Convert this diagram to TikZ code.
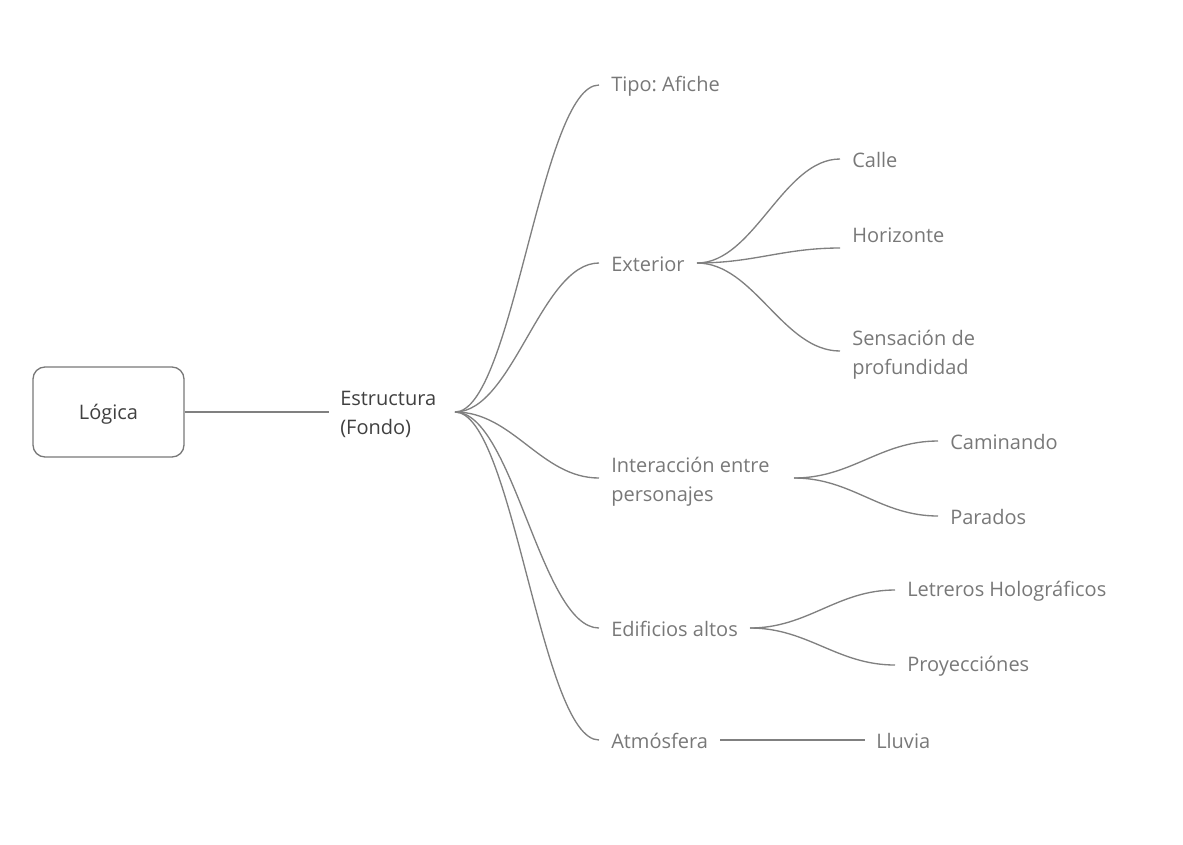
\documentclass[tikz,border=0pt]{standalone}
\usepackage{fontspec}
\setmainfont{Open Sans}
\frenchspacing
\definecolor{linegray}{HTML}{808080}
\definecolor{leafgray}{HTML}{787878}
\definecolor{darktext}{HTML}{404040}
\begin{document}
\begin{tikzpicture}[x=0.75pt,y=-0.75pt,
  every node/.style={font=\fontsize{15}{21.75}\selectfont, align=left, inner sep=0pt},
  rootbox/.style={draw=leafgray, line width=1pt, rounded corners=9pt, minimum width=113.25pt, minimum height=67.5pt, align=center, text=darktext, text height=14.4pt, text depth=3.6pt},
  maintext/.style={anchor=west, text=darktext, yshift=-1.5pt},
  leaf/.style={anchor=west, text=leafgray, yshift=-0.75pt},
  twoline/.style={yshift=-1.8pt},
  conn/.style={draw=linegray, line width=1pt},
]
\useasboundingbox (0,0) rectangle (1183,844);
% root
\node[rootbox] (logica) at (108.5,412) {Lógica};
\node[maintext] (estr) at (340,412) {Estructura\\(Fondo)};
\coordinate (estrin) at (329,412);
\coordinate (estrout) at (455,412);
\draw[conn] (logica.east) -- (estrin);

% level 1
\node[leaf] (tipo) at (611,85) {Tipo: Afiche};
\node[leaf] (ext) at (611,263) {Exterior};
\node[leaf, twoline] (inter) at (611,478) {Interacción entre\\personajes};
\node[leaf] (edif) at (611,628) {Edificios altos};
\node[leaf] (atm) at (611,740) {Atmósfera};
\foreach \n/\y in {tipo/85, ext/263, inter/478, edif/628, atm/740}{
  \coordinate (\n-in) at (599,\y);
  \draw[conn] (estrout) .. controls (513,412) and (541,\y) .. (\n-in);
}

% Exterior children
\coordinate (ext-out) at (697,263);
\node[leaf] (calle) at (852,159) {Calle};
\node[leaf] (hor) at (852,234) {Horizonte};
\node[leaf, twoline] (sens) at (852,351) {Sensación de\\profundidad};
\coordinate (calle-in) at (840,159);
\coordinate (hor-in) at (840,248);
\coordinate (sens-in) at (840,351);
\foreach \n/\y in {calle/159, hor/248, sens/351}{
  \draw[conn] (ext-out) .. controls (754,263) and (783,\y) .. (\n-in);
}

% Interaccion children
\coordinate (inter-out) at (794,478);
\node[leaf] (cam) at (950,441) {Caminando};
\node[leaf] (par) at (950,516) {Parados};
\coordinate (cam-in) at (938,441);
\coordinate (par-in) at (938,516);
\foreach \n/\y in {cam/441, par/516}{
  \draw[conn] (inter-out) .. controls (852,478) and (880,\y) .. (\n-in);
}

% Edificios children
\coordinate (edif-out) at (750,628);
\node[leaf] (letr) at (907,590) {Letreros Holográficos};
\node[leaf] (proy) at (907,665) {Proyecciónes};
\coordinate (letr-in) at (895,590);
\coordinate (proy-in) at (895,665);
\foreach \n/\y in {letr/590, proy/665}{
  \draw[conn] (edif-out) .. controls (808,628) and (837,\y) .. (\n-in);
}

% Atmosfera child
\coordinate (atm-out) at (720,740);
\node[leaf] (lluv) at (876,740) {Lluvia};
\coordinate (lluv-in) at (865,740);
\draw[conn] (atm-out) -- (lluv-in);
\end{tikzpicture}
\end{document}
